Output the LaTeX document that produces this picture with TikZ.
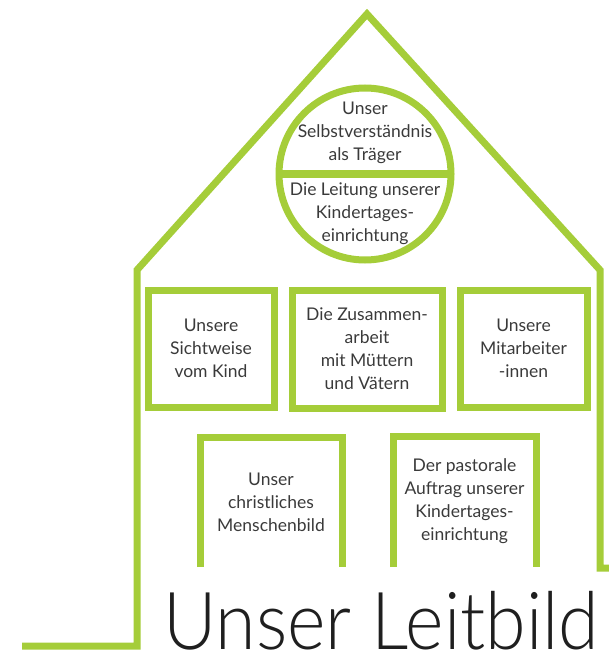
\documentclass[tikz,border=0pt]{standalone}
\usepackage{fontspec}
\setmainfont{Lato}
\newfontfamily\titlefont{Lato Light}
\usetikzlibrary{positioning}

\definecolor{leaf}{RGB}{165,205,57}
\definecolor{ink}{RGB}{58,58,58}

\tikzset{
    wall/.style={draw=leaf, line width=7pt, line join=miter},
    card/.style={draw=leaf, line width=7pt, inner sep=0pt, outer sep=0pt},
    opencard/.style={inner sep=0pt, outer sep=0pt},
    txt/.style={text=ink, align=center, font=\fontsize{17.5}{23}\selectfont},
}

\begin{document}
\begin{tikzpicture}[x=1pt, y=-1pt]
    \useasboundingbox (0,0) rectangle (609,655);

    \draw[wall] (22,646) -- (137,646) -- (137,270) -- (367,14) -- (600,270) -- (600,568) -- (615,568);

    \node[card, circle, minimum size=172pt] (seal) at (365,174) {};
    \draw[wall] (seal.west) -- (seal.east);
    \node[txt] (traeger) at (365,133) {Unser\\Selbstverständnis\\als Träger};
    \node[txt] (leitung) at (365,214) {Die Leitung unserer\\Kindertages-\\einrichtung};

    \node[card, txt, minimum width=126pt, minimum height=117pt] (kind) at (211,348.5) {Unsere\\Sichtweise\\vom Kind};
    \node[card, txt, minimum width=150pt, minimum height=118pt] (eltern) at (367,349) {Die Zusammen-\\arbeit\\mit Müttern\\und Vätern};
    \node[card, txt, minimum width=127pt, minimum height=117pt] (team) at (523.5,348.5) {Unsere\\Mitarbeiter\\-innen};

    \node[opencard, txt, minimum width=142pt, minimum height=130pt] (menschen) at (271,502) {Unser\\christliches\\Menschenbild};
    \draw[wall] (menschen.south west) -- (menschen.north west) -- (menschen.north east) -- (menschen.south east);

    \node[opencard, txt, minimum width=143pt, minimum height=131pt] (auftrag) at (464.5,501.5) {Der pastorale\\Auftrag unserer\\Kindertages-\\einrichtung};
    \draw[wall] (auftrag.south west) -- (auftrag.north west) -- (auftrag.north east) -- (auftrag.south east);

    \node[anchor=base west, inner sep=0pt, text=black!88, font=\titlefont\fontsize{80}{88}\selectfont] (leitbild) at (163,649) {\scalebox{0.92}[1]{Unser Leitbild}};
\end{tikzpicture}
\end{document}
